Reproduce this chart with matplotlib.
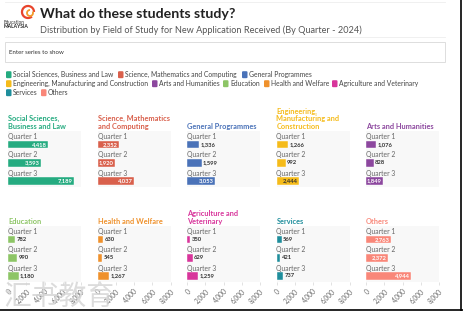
import matplotlib.pyplot as plt
import numpy as np
from matplotlib.patches import Rectangle, FancyBboxPatch, Arc

# data
quarters = ['Quarter 1', 'Quarter 2', 'Quarter 3']
fields = ['Social Sciences, Business and Law', 'Science, Mathematics and Computing',
          'General Programmes', 'Engineering, Manufacturing and Construction',
          'Arts and Humanities', 'Education', 'Health and Welfare',
          'Agriculture and Veterinary', 'Services', 'Others']
panel_titles = ['Social Sciences,\nBusiness and Law', 'Science, Mathematics\nand Computing',
                'General Programmes', 'Engineering,\nManufacturing and\nConstruction',
                'Arts and Humanities', 'Education', 'Health and Welfare',
                'Agriculture and\nVeterinary', 'Services', 'Others']
ssbl = [4418, 3593, 7189]
smc = [2352, 1920, 4037]
gen_prog = [1336, 1599, 3053]
emc = [1266, 992, 2444]
arts = [1076, 828, 1849]
education = [782, 990, 1180]
health = [630, 545, 1267]
agri = [350, 629, 1259]
services = [569, 421, 737]
others = [2763, 2372, 4944]
series = [ssbl, smc, gen_prog, emc, arts, education, health, agri, services, others]
colors = ['#25ab80', '#d9604c', '#4a72b8', '#f5bb1a', '#8c479e',
          '#8dc566', '#ef912c', '#d8359b', '#1f8e9c', '#f98779']
xticks = [0, 2000, 4000, 6000, 8000]

W, H = 463, 311
fig = plt.figure(figsize=(W / 100, H / 100), dpi=100)
plt.rcParams['font.family'] = ['Lato', 'DejaVu Sans']


def fx(px):
    return px / W


def fy(py):
    return 1 - py / H


# header
fig.text(fx(40), fy(14), 'What do these students study?', fontsize=10.2, fontweight='bold',
         color='#222222', va='center')
fig.text(fx(40), fy(30), 'Distribution by Field of Study for New Application Received (By Quarter - 2024)',
         fontsize=6.6, color='#555555', va='center')
# logo
fig.text(fx(4), fy(22), 'Education', fontsize=3.4, color='#333333', va='center')
fig.text(fx(4), fy(27), 'MALAYSIA', fontsize=3.6, fontweight='bold', color='#222222', va='center')
fig.patches.append(Arc((fx(28), fy(12)), fx(12), 12 / H, theta1=0, theta2=300,
                       color='#e8442c', lw=1.6, transform=fig.transFigure))
fig.patches.append(Arc((fx(30), fy(13)), fx(6), 6 / H, theta1=90, theta2=400,
                       color='#f39a2b', lw=1.3, transform=fig.transFigure))
fig.add_artist(plt.Line2D([fx(5), fx(445)], [fy(2), fy(2)], color='#eeeeee', lw=0.6))
fig.add_artist(plt.Line2D([fx(5), fx(445)], [fy(37), fy(37)], color='#eeeeee', lw=0.6))

# search box
fig.patches.append(Rectangle((fx(5), fy(62)), fx(440), 20 / H, transform=fig.transFigure,
                             facecolor='white', edgecolor='#dddddd', lw=0.7))
fig.text(fx(9), fy(52), 'Enter series to show', fontsize=4.4, color='#333333', va='center')

# legend
legend_pos = [(6, 74.7), (118, 74.7), (242, 74.7),
              (6, 83.7), (152, 83.7), (223, 83.7), (264, 83.7), (332, 83.7),
              (6, 92.7), (41, 92.7)]
for name, col, (lx, ly) in zip(fields, colors, legend_pos):
    fig.patches.append(FancyBboxPatch((fx(lx), fy(ly + 3.5)), fx(5.5), 7 / H,
                                      boxstyle='round,pad=0,rounding_size=0.003',
                                      transform=fig.transFigure, facecolor=col, edgecolor='none'))
    fig.text(fx(lx + 7), fy(ly), name, fontsize=4.9, color='#444444', va='center')

# panels
for k, (vals, col, title) in enumerate(zip(series, colors, panel_titles)):
    row, c = divmod(k, 5)
    left = 8 + c * 89.5
    top = 131 if row == 0 else 226
    ax = fig.add_axes([fx(left), fy(top + 56), fx(73), 56 / H])
    ax.set_facecolor('#f8f8f8')
    ypos = np.arange(len(quarters))
    ax.barh(ypos, vals, height=0.43, color=col, edgecolor='white', lw=0.3)
    ax.set_xlim(0, 8000)
    ax.set_ylim(2.33, -0.74)
    for sp in ax.spines.values():
        sp.set_visible(False)
    ax.set_yticks([])
    for i, (q, v) in enumerate(zip(quarters, vals)):
        ax.text(0, i - 0.43, q, fontsize=4.9, color='#666666', va='center', ha='left')
        lab = f'{v:,}'
        if v > 1700:
            tc = '#333333' if col == '#f5bb1a' else 'white'
            ax.text(v - 120, i, lab, fontsize=4.2, fontweight='bold', color=tc,
                    va='center', ha='right')
        else:
            ax.text(v + 150, i, lab, fontsize=4.2, fontweight='bold', color='#333333',
                    va='center', ha='left')
    ax.text(0, 1.02, title, transform=ax.transAxes, fontsize=5.3, fontweight='bold',
            color=col, va='bottom', ha='left', linespacing=1.1)
    ax.set_xticks(xticks)
    if row == 1:
        ax.set_xticklabels([f'{t:,}' for t in xticks], rotation=45, ha='right',
                           rotation_mode='anchor', fontsize=4.8, color='#666666')
        ax.tick_params(axis='x', length=2, width=0.4, color='#cccccc', pad=2)
    else:
        ax.tick_params(axis='x', length=0, labelbottom=False)

# watermark
fig.text(fx(4), fy(297), '汇书教育', fontsize=20, color='#d6d6d6', alpha=0.85,
         family=['Noto Sans CJK SC', 'DejaVu Sans'], va='center', zorder=20)

# screenshot border
fig.add_artist(plt.Line2D([fx(461), fx(461)], [0, 1], color='black', lw=1.2))
fig.add_artist(plt.Line2D([0, 1], [fy(309.5), fy(309.5)], color='black', lw=1.2))

fig.savefig('out.png', dpi=100)
